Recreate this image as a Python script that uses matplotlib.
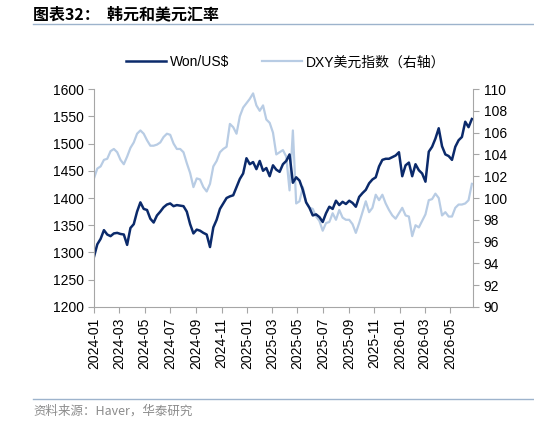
import numpy as np
import pandas as pd
import matplotlib
matplotlib.use("Agg")
import matplotlib.pyplot as plt
import matplotlib.dates as mdates
from matplotlib.lines import Line2D

plt.rcParams['font.family'] = ['Liberation Sans', 'Noto Sans CJK SC', 'DejaVu Sans']

# roughly 8-day samples, 2024-01-01 .. 2026-06-22
won = [1292, 1315, 1325, 1341, 1333, 1330, 1335, 1336, 1334, 1333,
       1314, 1345, 1352, 1375, 1392, 1380, 1378, 1362, 1355, 1368,
       1375, 1383, 1388, 1390, 1385, 1387, 1386, 1385, 1375, 1352,
       1335, 1342, 1340, 1336, 1333, 1310, 1346, 1360, 1380, 1390,
       1400, 1403, 1405, 1420, 1435, 1445, 1473, 1462, 1466, 1453,
       1468, 1450, 1455, 1440, 1460, 1452,
       1448, 1462, 1468, 1480, 1428, 1438, 1432, 1415, 1392, 1382,
       1368, 1370, 1365, 1356, 1372, 1384, 1380, 1395, 1387, 1393,
       1389, 1395, 1391, 1384, 1402, 1409, 1415, 1427, 1434, 1438,
       1458, 1470, 1472, 1472, 1475, 1478, 1484, 1440, 1460, 1465,
       1440, 1462, 1451, 1445, 1430, 1485, 1494, 1509, 1528, 1495,
       1480, 1477, 1470, 1494, 1506, 1512, 1540, 1530, 1545]
dxy = [101.8, 102.7, 102.9, 103.5, 103.6, 104.3, 104.5, 104.2, 103.5, 103.1,
       103.8, 104.6, 105.1, 105.9, 106.2, 105.9, 105.3, 104.8, 104.8, 104.9,
       105.1, 105.6, 105.9, 105.8, 105.0, 104.5, 104.5, 104.2, 103.2, 102.3,
       101.0, 101.8, 101.7, 101.0, 100.6, 101.3, 102.9, 103.4, 104.2, 104.5,
       104.7, 106.8, 106.5, 105.9, 107.5, 108.3, 108.7, 109.1, 109.6, 108.5,
       108.0, 108.5, 107.2, 106.9, 106.0, 104.0,
       104.2, 104.4, 103.8, 100.7, 106.2, 99.5, 99.7, 101.0, 99.6, 99.1,
       99.0, 98.3, 97.9, 97.0, 97.7, 97.8, 98.6, 98.0, 98.9, 98.2,
       98.0, 98.0, 97.6, 96.8, 97.7, 98.7, 99.7, 98.7, 99.1, 100.3,
       99.8, 100.3, 99.5, 98.9, 98.4, 98.1, 98.6, 99.1, 98.4, 98.3,
       96.5, 97.5, 97.3, 97.9, 98.5, 99.8, 99.9, 100.4, 100.0, 98.4,
       98.7, 98.3, 98.3, 99.1, 99.4, 99.4, 99.5, 99.8, 101.3]
dates = pd.date_range('2024-01-01', '2026-06-22', periods=len(won))

navy = '#0b2a6b'
light = '#b8cce4'
grey = '#a6a6a6'

fig = plt.figure(figsize=(5.34, 4.24), dpi=100)
ax = fig.add_axes([0.176, 0.276, 0.710, 0.514])
ax2 = ax.twinx()

ax2.plot(dates, dxy, color=light, lw=1.6)
ax.plot(dates, won, color=navy, lw=1.8)
ax.set_zorder(ax2.get_zorder() + 1)
ax.patch.set_visible(False)

ax.set_ylim(1200, 1600)
ax.set_yticks(np.arange(1200, 1601, 50))
ax2.set_ylim(90, 110)
ax2.set_yticks(np.arange(90, 111, 2))
ax.set_xlim(pd.Timestamp('2024-01-01'), pd.Timestamp('2026-06-25'))
ax.xaxis.set_major_locator(mdates.MonthLocator(bymonth=[1, 3, 5, 7, 9, 11]))
ax.xaxis.set_major_formatter(mdates.DateFormatter('%Y-%m'))
plt.setp(ax.get_xticklabels(), rotation=90)

for a in (ax, ax2):
    a.spines['top'].set_visible(False)
    for s in ('left', 'right', 'bottom'):
        a.spines[s].set_color(grey)
    a.tick_params(colors=grey, labelcolor='black', labelsize=10, length=4)

ax.spines['right'].set_visible(False)
ax2.spines['left'].set_visible(False)
ax2.spines['bottom'].set_visible(False)

handles = [Line2D([], [], color=navy, lw=1.8), Line2D([], [], color=light, lw=1.6)]
fig.legend(handles, ['Won/US$', 'DXY美元指数（右轴）'], loc='center',
           bbox_to_anchor=(0.535, 0.853), ncol=2, frameon=False,
           handlelength=2.9, columnspacing=2.3, handletextpad=0.3,
           prop={'family': ['Liberation Sans', 'Noto Sans CJK SC'], 'size': 10})

fig.text(0.062, 0.966, '图表32：  韩元和美元汇率', fontsize=11.5, fontweight='bold',
         family=['Noto Sans CJK SC', 'DejaVu Sans'], va='center', ha='left')
fig.add_artist(Line2D([0.062, 1.0], [0.943, 0.943], color='#9db3cc', lw=1))
fig.add_artist(Line2D([0.062, 1.0], [0.059, 0.059], color='#9db3cc', lw=1))
fig.text(0.062, 0.030, '资料来源：Haver，华泰研究', fontsize=9, color='#8c8c8c',
         family=['Noto Sans CJK SC', 'DejaVu Sans'], va='center', ha='left')

fig.savefig('out.png', dpi=100)
